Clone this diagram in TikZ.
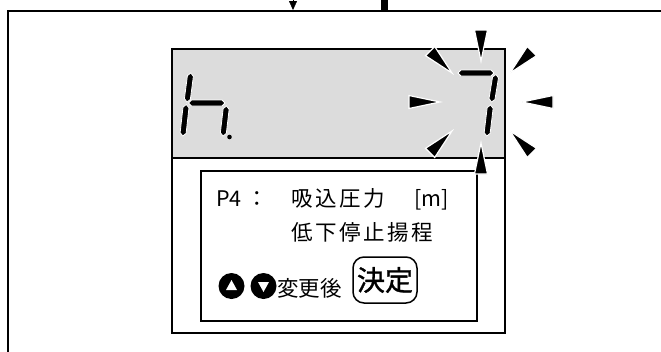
\documentclass[tikz,border=0pt]{standalone}
\usepackage{fontspec}
\setmainfont{Noto Sans CJK JP}
\newfontfamily\jpwide[LetterSpace=12]{Noto Sans CJK JP}
\newfontfamily\jpkey[FakeBold=1.2]{Noto Sans CJK JP}
\usetikzlibrary{arrows.meta,calc}
\definecolor{lcdgrey}{HTML}{DCDCDC}
\tikzset{panelline/.style={draw=black,line width=2pt},lcdbox/.style={draw=black,line width=2.5pt},msgbox/.style={draw=black,line width=1.2pt},seg/.style={fill=black,draw=white,line width=0.8pt,line join=miter},blink/.style={fill=black,draw=white,line width=1.2pt},lbl/.style={inner sep=0,font=\fontsize{21.5}{24}\selectfont},keycirc/.style={circle,fill=black,minimum size=26pt,inner sep=0},keybox/.style={draw=black,line width=1.5pt,rounded corners=11pt,minimum width=64pt,minimum height=46pt,inner sep=0,font=\jpkey\fontsize{28}{30}\selectfont}}
% one pointed segment from tip #1 to tip #2
\newcommand\lcdseg[2]{\draw[seg] (#1) -- ($(#1)!3pt!(#2)!3pt!90:(#1)$) -- ($(#2)!3pt!(#1)!3pt!-90:(#2)$) -- (#2) -- ($(#2)!3pt!(#1)!3pt!90:(#2)$) -- ($(#1)!3pt!(#2)!3pt!-90:(#1)$) -- cycle;}

\begin{document}
\begin{tikzpicture}[x=1pt,y=-1pt]
\useasboundingbox (0,0) rectangle (661,351);
\clip (0,0) rectangle (661,351);
% feed from above
\coordinate (feed) at (293,-20);
\coordinate (feedend) at (293,10);
\draw[-{Triangle[width=8pt,length=9pt]}] (feed) -- (feedend);
\draw[line width=7pt] (384.5,-5) -- (384.5,11);
\draw[panelline] (7.5,360) -- (7.5,11) -- (670,11);
% display
\fill[lcdgrey] (172,49) rectangle (505,158);
\draw[lcdbox] (172,49) rectangle (505,333);
\draw[line width=2pt] (172,158) -- (505,158);
\draw[msgbox] (201,171) rectangle (477,321);
% segments: h.
\lcdseg{190.8,73}{187,102}
\lcdseg{188.5,103}{225,103}
\lcdseg{186.3,104.5}{182.8,136}
\lcdseg{226.5,106}{223,136}
\fill (229.5,137) circle (2.3);
% segments: 7
\lcdseg{458,73}{494,73}
\lcdseg{496,74.5}{491.5,102}
\lcdseg{490.5,105}{486.8,136}
% blinking marks
\foreach \a in {0,45,...,315}
  \draw[blink,shift={(481,102)},rotate=\a] (41,0) -- (72,6.5) -- (72,-6.5) -- cycle;
% message
\node[lbl,anchor=base west] (pno) at (216,206) {P4\hspace{5pt}：};
\node[lbl,anchor=base west] (pname) at (291,206) {\jpwide 吸込圧力};
\node[lbl,anchor=base west] (unit) at (414,206) {[m]};
\node[lbl,anchor=base west] (pname2) at (291,240) {\jpwide 低下停止揚程};
\node[keycirc] (up) at (231.5,286) {};
\node[keycirc] (dn) at (263.5,286) {};
\fill[white] (up) ++(0,-6) -- ++(5.5,10) -- ++(-11,0) -- cycle;
\fill[white] (dn) ++(0,6) -- ++(5.5,-10) -- ++(-11,0) -- cycle;
\node[lbl,anchor=base west] (chg) at (277,296) {変更後};
\node[keybox] (ok) at (385,280) {決定};
\end{tikzpicture}
\end{document}
